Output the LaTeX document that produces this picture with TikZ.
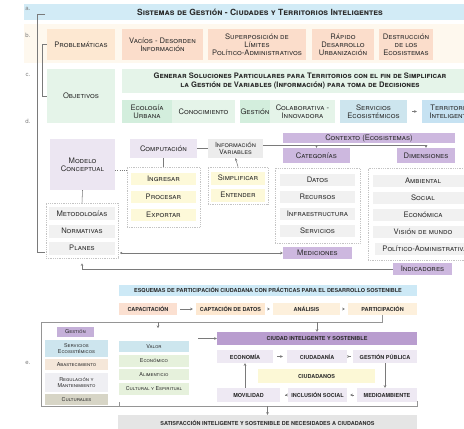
\documentclass[tikz,border=0pt]{standalone}
\usepackage{fontspec}
\setmainfont{TeX Gyre Heros}
\usetikzlibrary{arrows.meta}

% palette
\definecolor{txt}{HTML}{2B2B2B}
\definecolor{lineC}{HTML}{7A7A7A}
\definecolor{dotC}{HTML}{C4C4C4}
\definecolor{bandA}{HTML}{D2EBF6}
\definecolor{bandB}{HTML}{FEF8EE}
\definecolor{probC}{HTML}{FDE8D2}
\definecolor{peachC}{HTML}{FBDDCB}
\definecolor{greenL}{HTML}{E5F4E9}
\definecolor{greenD}{HTML}{D3EEDD}
\definecolor{blueS}{HTML}{CDE5EE}
\definecolor{blueT}{HTML}{C6E2F2}
\definecolor{lav}{HTML}{ECE6F2}
\definecolor{grayI}{HTML}{ECECEC}
\definecolor{purp}{HTML}{CDB8DF}
\definecolor{itemG}{HTML}{F1F1F1}
\definecolor{yel}{HTML}{FDF9D9}
\definecolor{esqC}{HTML}{CDE9F6}
\definecolor{capC}{HTML}{FBE0D1}
\definecolor{cptC}{HTML}{FDE8D1}
\definecolor{anaC}{HTML}{FDF0DC}
\definecolor{gestP}{HTML}{C5B0D9}
\definecolor{abasC}{HTML}{F5E7D9}
\definecolor{regC}{HTML}{EFEFF3}
\definecolor{cultC}{HTML}{D7D5C6}
\definecolor{valC}{HTML}{CDE6EE}
\definecolor{econC}{HTML}{E6F1DC}
\definecolor{ciuP}{HTML}{B99DCF}
\definecolor{lavL}{HTML}{EEE9F3}
\definecolor{ciudY}{HTML}{FCF8D6}
\definecolor{satC}{HTML}{E5E5E5}

\newcommand{\fsc}{\fontsize{7.6}{8.2}\selectfont\scshape}
\newcommand{\fscs}{\fontsize{7}{7.4}\selectfont\scshape}
\newcommand{\ftitle}{\fontsize{8.5}{9}\selectfont\bfseries\scshape}
\newcommand{\fcap}{\fontsize{5.5}{6.5}\selectfont\bfseries}
\newcommand{\ftiny}{\fontsize{5.4}{5.8}\selectfont\scshape}

\tikzset{
  bx/.style={draw=none, inner sep=0pt, align=center, text=txt, font=\fsc},
  sz/.style 2 args={minimum width=#1pt, minimum height=#2pt},
  dotbox/.style={draw=dotC, line width=0.6pt, dash pattern=on 0.7pt off 1.1pt, inner sep=0pt},
  ln/.style={draw=lineC, line width=0.55pt},
  tip/.style={-{Stealth[length=2.6pt,width=2.6pt]}},
  lbl/.style={text=lineC, font=\fontsize{6}{6}\selectfont, inner sep=0pt},
}

\begin{document}
\begin{tikzpicture}[x=1pt,y=-1pt]
\useasboundingbox (0,0) rectangle (464,429);
\clip (0,0) rectangle (464,429);

% ---------- bands a. and b.
\fill[bandA] (24,4) rectangle (470,20);
\node[bx, font=\ftitle] (title) at (260,12) {Sistemas de Gestión - Ciudades y Territorios Inteligentes};
\fill[bandB] (24,24) rectangle (470,63);

\node[lbl] (la) at (28,9) {a.};
\node[lbl] (lb) at (28,35) {b.};
\node[lbl] (lc) at (28,75) {c.};
\node[lbl] (ld) at (28,121) {d.};
\node[lbl] (le) at (28,363) {e.};

% ---------- row b: problems
\node[bx, fill=probC, sz={68}{31}] (prob) at (81,44.5) {Problemáticas};
\node[bx, fill=peachC, sz={81}{31}] (vac) at (162.5,44.5) {Vacíos - Desorden\\Información};
\node[bx, fill=peachC, sz={98}{31}] (sup) at (257,44.5) {Superposición de\\Límites\\Político-Administrativos};
\node[bx, fill=peachC, sz={62}{31}] (rap) at (343,44.5) {Rápido\\Desarrollo\\Urbanización};
\node[bx, fill=peachC, sz={54}{31}] (des) at (406,44.5) {Destrucción\\de los\\Ecosistemas};

% ---------- row c: objectives
\node[bx, fill=greenL, sz={68}{54}] (obj) at (81,96) {Objetivos};
\node[bx, fill=greenL, sz={356}{24}, font=\fsc\bfseries] (gen) at (300,81)
  {Generar Soluciones Particulares para Territorios con el fin de Simplificar\\la Gestión de Variables (Información) para toma de Decisiones};
\node[bx, fill=greenD, sz={50}{23}] (eco) at (147,111.5) {Ecología\\Urbana};
\node[bx, fill=greenL, sz={63}{23}] (con) at (203.5,111.5) {Conocimiento};
\node[bx, fill=greenD, sz={30}{23}] (gesc) at (255,111.5) {Gestión};
\node[bx, fill=greenL, sz={65}{23}] (col) at (302.5,111.5) {Colaborativa -\\Innovadora};
\node[bx, fill=blueS, sz={67}{23}] (ser) at (373.5,111.5) {Servicios\\Ecosistémicos};
\node[bx, fill=blueT, sz={60}{23}] (ter) at (452,111.5) {Territorios\\Inteligentes};
\draw[ln, tip, shorten <=5pt, shorten >=5pt] (ser.east) -- (ter.west);

% side brackets
\coordinate (aTop) at (45,14);
\coordinate (aBot) at (45,252);
\draw[ln] (aTop) -- ++(-8,0) |- (aBot);
\draw[ln] (prob.west) -- ++(-5,0) |- (obj.west);

% ---------- row d: model
\node[bx, fill=lav, sz={65}{51}] (mc) at (82.5,164.5) {Modelo\\Conceptual};
\node[bx, fill=lav, sz={67}{19}] (comp) at (163.5,148.5) {Computación};
\node[bx, fill=grayI, sz={55}{19}, font=\fscs] (info) at (235.5,148.5) {Información\\Variables};
\fill[purp] (283,133) rectangle (455,143);
\node[bx] (ctx) at (369,138) {Contexto (Ecosistemas)};
\node[bx, fill=purp, sz={67}{15}] (cat) at (316.5,155.5) {Categorías};
\node[bx, fill=purp, sz={58}{15}] (dim) at (426,155.5) {Dimensiones};

% computing steps
\node[dotbox, sz={73}{60}] (ingbox) at (163.5,197) {};
\node[bx, fill=yel, sz={65}{12}] (ing) at (163.5,179) {Ingresar};
\node[bx, fill=yel, sz={65}{12}] (pro) at (163.5,197) {Procesar};
\node[bx, fill=yel, sz={65}{12}] (exp) at (163.5,215) {Exportar};

\node[dotbox, sz={60}{37}] (simpbox) at (238,185.5) {};
\node[bx, fill=yel, sz={54}{13}] (simp) at (238,178) {Simplificar};
\node[bx, fill=yel, sz={54}{13}] (ent) at (238,195) {Entender};

% methodologies
\node[dotbox, sz={72}{55}] (metbox) at (82,230.5) {};
\node[bx, fill=itemG, sz={66}{13}] (met) at (82,213.5) {Metodologías};
\node[bx, fill=itemG, sz={66}{13}] (nor) at (82,231) {Normativas};
\node[bx, fill=itemG, sz={66}{13}] (pla) at (82,248) {Planes};

% categories
\node[dotbox, sz={85}{75}] (catbox) at (317.5,205.5) {};
\node[bx, fill=itemG, sz={75}{12}] (dat) at (317.5,180) {Datos};
\node[bx, fill=itemG, sz={75}{12}] (rec) at (317.5,197) {Recursos};
\node[bx, fill=itemG, sz={75}{12}] (inf) at (317.5,214) {Infraestructura};
\node[bx, fill=itemG, sz={75}{12}] (svc) at (317.5,231) {Servicios};

% dimensions
\node[dotbox, sz={104}{92}] (dimbox) at (420,214) {};
\node[bx, fill=itemG, sz={100}{12}] (amb) at (423,181) {Ambiental};
\node[bx, fill=itemG, sz={100}{12}] (soc) at (423,198) {Social};
\node[bx, fill=itemG, sz={100}{12}] (ecn) at (423,215) {Económica};
\node[bx, fill=itemG, sz={100}{12}] (vis) at (423,231.5) {Visión de mundo};
\node[bx, fill=itemG, sz={100}{12}] (pol) at (425,249) {Político-Administrativa};

\node[bx, fill=purp, sz={69}{12}] (med) at (317.5,253) {Mediciones};
\node[bx, fill=purp, sz={59}{12}] (ind) at (422.5,269) {Indicadores};

% row d connectors
\coordinate (infoOut) at (263,145);
\draw[ln] (comp.east) -- (info.west);
\draw[ln] (infoOut) -- (infoOut -| dim.north);
\draw[ln, tip] (infoOut -| cat.north) -- (cat.north);
\draw[ln, tip] (infoOut -| dim.north) -- (dim.north);
\draw[ln] (comp.south) -- (ingbox.north);
\draw[ln, tip] (simpbox.north) -- (info.south);
\draw[ln, dash pattern=on 1pt off 1.2pt] ([yshift=-5.5pt]mc.east) -- ([yshift=-5.5pt]mc.east -| ingbox.west);
\draw[ln] (mc.south) -- (metbox.north);
\draw[ln, {Circle[length=2pt]}-{Stealth[length=2.6pt,width=2.6pt]}, shorten <=-2pt] (metbox.east |- med.west) ++(4,0) -- (med.west);
\draw[ln, tip, shorten >=5pt] (ind.west) -| (metbox.south);

% ---------- part e: participation
\node[bx, fill=esqC, sz={298}{11}, font=\fcap] (esq) at (268,290.5)
  {ESQUEMAS DE PARTICIPACIÓN CIUDADANA CON PRÁCTICAS PARA EL DESARROLLO SOSTENIBLE};
\node[bx, fill=capC, sz={58}{12}, font=\fcap] (cap) at (148,309) {CAPACITACIÓN};
\node[bx, fill=cptC, sz={69}{12}, font=\fcap] (cpt) at (230.5,309) {CAPTACIÓN DE DATOS};
\node[bx, fill=anaC, sz={67}{12}, font=\fcap] (ana) at (306.5,309) {ANÁLISIS};
\node[bx, fill=anaC, sz={69}{12}, font=\fcap] (par) at (382.5,309) {PARTICIPACIÓN};
\draw[ln, tip, shorten <=3pt, shorten >=3pt] (cap.east) -- (cpt.west);
\draw[ln, tip, shorten <=3pt, shorten >=3pt] (cpt.east) -- (ana.west);
\draw[ln, tip, shorten <=3pt, shorten >=3pt] (ana.east) -- (par.west);

% ecosystem services column
\node[bx, fill=gestP, sz={37}{10}, font=\ftiny] (gest) at (75.5,332) {Gestión};
\node[bx, fill=blueS, sz={63}{17}, font=\ftiny] (sere) at (76.5,348.5) {Servicios\\Ecosistémicos};
\node[bx, fill=abasC, sz={63}{11}, font=\ftiny] (abas) at (76.5,364.5) {Abastecimiento};
\node[bx, fill=regC, sz={63}{19}, font=\ftiny] (reg) at (76.5,382.5) {Regulación y\\Mantenimiento};
\node[bx, fill=cultC, sz={63}{11}, font=\ftiny] (cult) at (76.5,399.5) {Culturales};

% value column
\node[bx, fill=valC, sz={70}{11}, font=\ftiny] (val) at (154,346.5) {Valor};
\node[bx, fill=econC, sz={70}{12}, font=\ftiny] (econ) at (154,361) {Económico};
\node[bx, fill=econC, sz={70}{11}, font=\ftiny] (alim) at (154,374.5) {Alimenticio};
\node[bx, fill=econC, sz={70}{12}, font=\ftiny] (cesp) at (154,389) {Cultural y Espiritual};

% smart city cycle
\node[bx, fill=ciuP, sz={200}{13}, font=\fcap] (ciu) at (317,338.5) {CIUDAD INTELIGENTE Y SOSTENIBLE};
\node[bx, fill=lavL, sz={56}{13}, font=\fcap] (econo) at (245,356.5) {ECONOMÍA};
\node[bx, fill=lavL, sz={60}{13}, font=\fcap] (ciud) at (317,356.5) {CIUDADANÍA};
\node[bx, fill=lavL, sz={64}{13}, font=\fcap] (gp) at (385,356.5) {GESTIÓN PÚBLICA};
\node[bx, fill=ciudY, sz={117}{14}, font=\fcap] (cdn) at (316.5,376) {CIUDADANOS};
\node[bx, fill=lavL, sz={63}{14}, font=\fcap] (mov) at (248.5,395) {MOVILIDAD};
\node[bx, fill=lavL, sz={59}{14}, font=\fcap] (inc) at (317.5,395) {INCLUSIÓN SOCIAL};
\node[bx, fill=lavL, sz={60}{14}, font=\fcap] (mam) at (387,395) {MEDIOAMBIENTE};
\draw[ln, tip, shorten <=4pt, shorten >=4pt] (econo.east) -- (ciud.west);
\draw[ln, tip, shorten <=4pt, shorten >=3pt] (ciud.east) -- (gp.west);
\draw[ln, tip] (gp.south) -- (gp.south |- mam.north);
\draw[ln, tip, shorten <=3pt, shorten >=3pt] (mam.west) -- (inc.east);
\draw[ln, tip, shorten <=3pt, shorten >=5pt] (inc.west) -- (mov.east);
\draw[ln, tip] (mov.north -| econo.south) -- (econo.south);

\node[bx, fill=satC, sz={299}{15}, font=\fcap] (sat) at (267.5,422.5)
  {SATISFACCIÓN INTELIGENTE Y SOSTENIBLE DE NECESIDADES A CIUDADANOS};

% frame joining the participation row with part e
\coordinate (fTL) at (41,322);
\coordinate (fBR) at (417,406);
\coordinate (fEnd) at (417,401);
\coordinate (vArr) at (158,328);
\coordinate (gArr) at (198,338.5);
\coordinate (bTick) at (119,402);
\draw[ln, draw=lineC!80] (par.south) |- (fTL) |- (fBR) -- (fEnd);
\draw[ln, draw=lineC!80] (bTick) -- (bTick |- fBR);
\draw[ln, tip] (vArr |- fTL) -- (vArr);
\draw[ln, tip] (fTL -| ciu.north) -- (ciu.north);
\draw[ln, tip] (gArr) -- (ciu.west);
\draw[ln, tip] (fBR -| sat.north) -- (sat.north);
\end{tikzpicture}
\end{document}
